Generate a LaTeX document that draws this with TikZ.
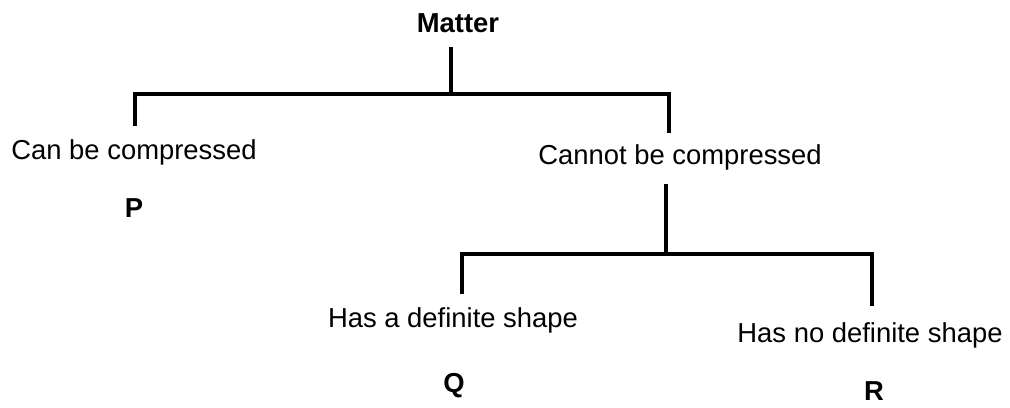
\documentclass[tikz,border=0pt]{standalone}
\usepackage{fontspec}
\setmainfont{Liberation Sans}
\usepackage{tikz}
\usetikzlibrary{positioning}

\begin{document}
\begin{tikzpicture}[
    x=0.02cm, y=-0.02cm,
    label/.style={anchor=base,inner sep=0pt,font=\fontsize{15.6}{18}\selectfont},
    tag/.style={label,font=\fontsize{15.6}{18}\selectfont\bfseries},
    branch/.style={line width=1.8pt,line cap=rect}
  ]
    \useasboundingbox (0,0) rectangle (1010,407);

    % class nodes
    \node[tag] (matter) at (458,32) {Matter};
    \node[label] (can) at (134,159) {Can be compressed};
    \node[tag] (p) at (134,217) {P};
    \node[label] (cannot) at (680,164) {Cannot be compressed};
    \node[label] (hasdef) at (453,327) {Has a definite shape};
    \node[tag] (q) at (454,392) {Q};
    \node[label] (hasno) at (870,342) {Has no definite shape};
    \node[tag] (r) at (874,400) {R};

    % branch points
    \coordinate (matter-s) at (451,49);
    \coordinate (fork1) at (451,94);
    \coordinate (can-n) at (135,124);
    \coordinate (cannot-n) at (669,131);
    \coordinate (cannot-s) at (666,186);
    \coordinate (fork2) at (666,254);
    \coordinate (hasdef-n) at (462,292);
    \coordinate (hasno-n) at (872,304);

    \draw[branch] (matter-s) -- (fork1);
    \draw[branch] (can-n) |- (fork1) -| (cannot-n);
    \draw[branch] (cannot-s) -- (fork2);
    \draw[branch] (hasdef-n) |- (fork2) -| (hasno-n);
  \end{tikzpicture}
\end{document}
